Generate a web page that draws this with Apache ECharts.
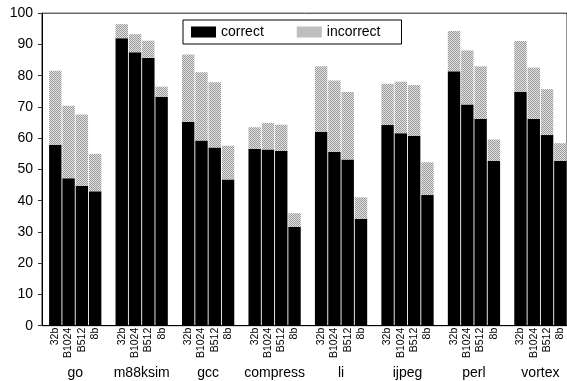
<!DOCTYPE html>
<html>
<head>
<meta charset="utf-8">
<script src="https://cdn.jsdelivr.net/npm/echarts@6/dist/echarts.min.js"></script>
<style>
  html, body { margin: 0; padding: 0; background: #fff; }
  #chart { width: 567px; height: 381px; }
</style>
</head>
<body>
<div id="chart"></div>
<script>
// Benchmarks and predictor configurations
const benchmarks = ['go', 'm88ksim', 'gcc', 'compress', 'li', 'ijpeg', 'perl', 'vortex'];
const configs = ['32b', 'B1024', 'B512', '8b'];

// Percent of predictions that were correct (per benchmark, per config)
const correct = [
  [57.9, 47.2, 44.8, 43.0],
  [92.0, 87.5, 85.7, 73.3],
  [65.2, 59.3, 57.0, 46.8],
  [56.6, 56.4, 55.9, 31.6],
  [62.1, 55.7, 53.2, 34.2],
  [64.2, 61.6, 60.7, 41.8],
  [81.4, 70.8, 66.2, 52.8],
  [74.9, 66.2, 61.0, 52.8]
];

// Percent of predictions that were incorrect (stacked on top)
const incorrect = [
  [23.7, 23.2, 22.8, 12.0],
  [4.5, 5.8, 5.5, 3.2],
  [21.6, 21.8, 20.9, 10.8],
  [6.9, 8.5, 8.4, 4.4],
  [20.9, 22.8, 21.6, 6.9],
  [13.2, 16.5, 16.3, 10.5],
  [12.9, 17.3, 16.8, 6.8],
  [16.2, 16.4, 14.7, 5.6]
];

const yTicks = [0, 10, 20, 30, 40, 50, 60, 70, 80, 90, 100];

// Each group takes 4 bar slots plus one empty slot
const SLOT = configs.length + 1;
function slotOf(g, b) { return g * SLOT + b + 1; }

// Rows of [percent, slot] so the percent is the stacked dimension
function toPoints(rows) {
  const pts = [];
  rows.forEach((row, g) => row.forEach((v, b) => pts.push([v, slotOf(g, b)])));
  return pts;
}

// Stippled grey fill for the "incorrect" part
const pat = document.createElement('canvas');
pat.width = 2; pat.height = 2;
const pctx = pat.getContext('2d');
pctx.fillStyle = '#e2e2e2';
pctx.fillRect(0, 0, 2, 2);
pctx.fillStyle = '#9a9a9a';
pctx.fillRect(0, 0, 1, 1);
pctx.fillRect(1, 1, 1, 1);
const stipple = { image: pat, repeat: 'repeat' };

const FONT = 'Liberation Sans, Arial, Helvetica, sans-serif';
const xMax = benchmarks.length * SLOT - 0.5;

const chart = echarts.init(document.getElementById('chart'), null, { renderer: 'canvas' });
chart.setOption({
  animation: false,
  textStyle: { fontFamily: FONT, color: '#000' },
  grid: {
    left: 42, right: 0, top: 13.2, bottom: 55.3,
    show: true, borderColor: '#222', borderWidth: 1
  },
  legend: {
    data: [
      { name: 'correct', itemStyle: { color: '#000' } },
      { name: 'incorrect', itemStyle: { color: stipple } }
    ],
    left: 183, top: 20,
    orient: 'horizontal',
    itemWidth: 25, itemHeight: 11, itemGap: 33,
    padding: [5, 21, 5, 8],
    borderColor: '#000', borderWidth: 1,
    backgroundColor: '#fff',
    icon: 'rect',
    textStyle: { fontFamily: FONT, fontSize: 14, color: '#000' }
  },
  xAxis: [
    {
      type: 'value', min: 0, max: xMax, interval: 1,
      position: 'bottom',
      splitLine: { show: false },
      axisLine: { show: true, lineStyle: { color: '#000', width: 1 } },
      axisTick: { show: false },
      axisLabel: {
        rotate: 90, margin: 2, fontSize: 10.5, color: '#000', fontFamily: FONT,
        showMinLabel: false, showMaxLabel: false,
        formatter: function (v) {
          const k = Math.round(v) % SLOT;
          return k === 0 || Math.round(v) !== v ? '' : configs[k - 1];
        }
      }
    },
    {
      type: 'value', min: 0, max: xMax, interval: SLOT / 2,
      position: 'bottom',
      splitLine: { show: false },
      axisLine: { show: false },
      axisTick: { show: false },
      axisLabel: {
        margin: 40, fontSize: 14, color: '#000', fontFamily: FONT,
        showMinLabel: false, showMaxLabel: false,
        formatter: function (v) {
          const g = (v - SLOT / 2) / SLOT;
          return Number.isInteger(g) && benchmarks[g] ? benchmarks[g] : '';
        }
      }
    }
  ],
  yAxis: [
    {
      type: 'value', min: yTicks[0], max: yTicks[yTicks.length - 1], interval: 10,
      position: 'left',
      splitLine: { show: false },
      axisLine: { show: true, lineStyle: { color: '#000', width: 1 } },
      axisTick: { show: true, length: 4, lineStyle: { color: '#000' } },
      axisLabel: { margin: 9, fontSize: 14, color: '#000', fontFamily: FONT }
    },
    {
      type: 'value', min: yTicks[0], max: yTicks[yTicks.length - 1], interval: 10,
      position: 'right',
      splitLine: { show: false },
      axisLine: { show: false },
      axisTick: { show: true, inside: true, length: 4, lineStyle: { color: '#333' } },
      axisLabel: { show: false }
    }
  ],
  series: [
    {
      name: 'correct', type: 'bar', stack: 'all', barWidth: 12.4,
      xAxisIndex: 0, yAxisIndex: 0,
      encode: { x: 1, y: 0 },
      itemStyle: { color: '#000' },
      data: toPoints(correct)
    },
    {
      name: 'incorrect', type: 'bar', stack: 'all', barWidth: 12.4,
      xAxisIndex: 0, yAxisIndex: 0,
      encode: { x: 1, y: 0 },
      itemStyle: { color: stipple },
      data: toPoints(incorrect)
    }
  ]
});
</script>
</body>
</html>
